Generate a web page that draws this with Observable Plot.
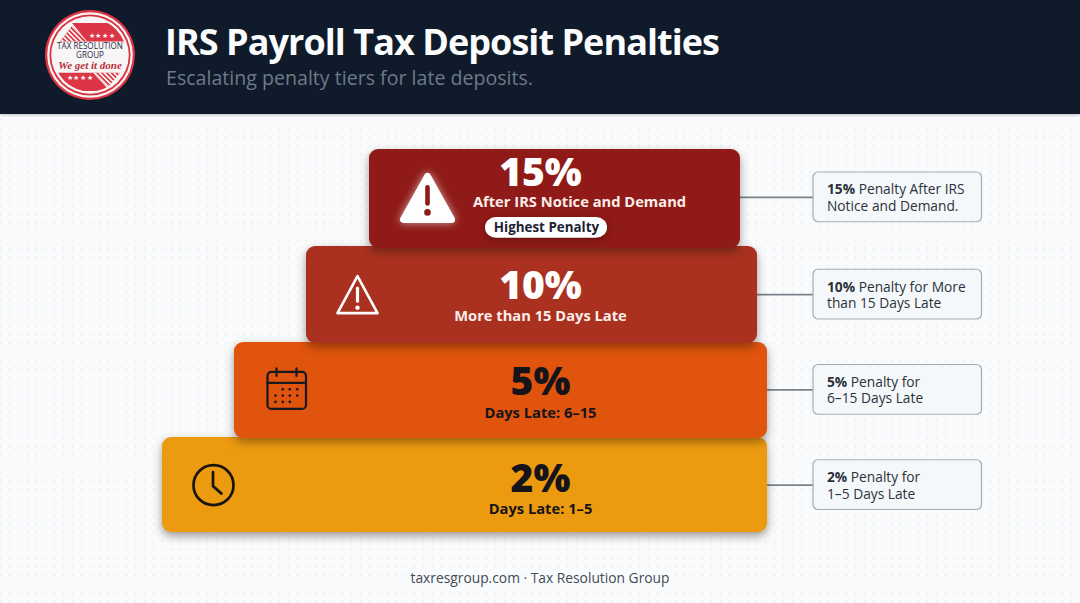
<!DOCTYPE html>
<html>
<head>
<meta charset="utf-8">
<script src="https://cdn.jsdelivr.net/npm/d3@7"></script>
<script src="https://cdn.jsdelivr.net/npm/@observablehq/plot@0.6"></script>
<style>
html,body{margin:0;padding:0;width:1080px;height:603px;overflow:hidden;font-family:"Open Sans",sans-serif;
  background-color:#fafbfc;background-image:radial-gradient(circle,#e4e7ea 0.7px,transparent 1.1px);background-size:9px 8.6px;background-position:-4px 4px}
#hdr{position:relative;height:114px;background:#0f1a2a;box-shadow:0 1px 3px rgba(0,0,0,.25)}
#logo{position:absolute;left:42px;top:7px}
#ttl{position:absolute;left:165px;top:17px;font-size:36px;font-weight:700;color:#fbfcfd;line-height:50px;white-space:nowrap;letter-spacing:-.95px}
#sub{position:absolute;left:166px;top:64px;font-size:19.6px;color:#6d7b88;line-height:28px;white-space:nowrap}
#chart svg{display:block;background:transparent;overflow:visible}
#ftr{position:absolute;left:0;top:566px;width:1080px;text-align:center;font-size:13.8px;line-height:24px;color:#3f4a55}
</style>
</head>
<body>
<div id="hdr">
  <svg id="logo" width="96" height="96" viewBox="0 0 96 96">
    <defs>
      <clipPath id="c"><circle cx="48" cy="48" r="36.5"/></clipPath>
      <pattern id="st" width="3.4" height="3.4" patternUnits="userSpaceOnUse" patternTransform="rotate(-45)"><rect width="1.7" height="3.4" fill="#f8f5f5"/></pattern>
    </defs>
    <circle cx="48" cy="48" r="45" fill="#dc3545"/>
    <circle cx="48" cy="48" r="42.8" fill="#f6f3f3"/>
    <circle cx="48" cy="48" r="40.6" fill="#d8323f"/>
    <circle cx="48" cy="48" r="38.8" fill="#f8f5f5"/>
    <g clip-path="url(#c)">
      <polygon points="45,34.5 30,16 96,16 96,34.5" fill="#dc3545"/>
      <polygon points="18,34.5 45,34.5 30,19" fill="#dc3545"/>
      <polygon points="18,34.5 45,34.5 30,19" fill="url(#st)"/>
      <polygon points="0,65.8 51,65.8 68,84 0,84" fill="#dc3545"/>
      <polygon points="51,65.8 78,65.8 66,80" fill="#dc3545"/>
      <polygon points="51,65.8 78,65.8 66,80" fill="url(#st)"/>
    </g>
    <text x="60" y="31" text-anchor="middle" font-size="6.5" fill="#fff" letter-spacing=".6">★★★★</text>
    <text x="38" y="72.5" text-anchor="middle" font-size="6.5" fill="#fff" letter-spacing=".6">★★★★</text>
    <text x="48" y="42" text-anchor="middle" font-family="Open Sans" font-size="8.1" font-weight="500" fill="#1f2a4d">TAX RESOLUTION</text>
    <text x="48" y="51" text-anchor="middle" font-family="Open Sans" font-size="8.1" font-weight="500" fill="#1f2a4d">GROUP</text>
    <text x="48" y="62" text-anchor="middle" font-family="Liberation Serif" font-style="italic" font-weight="700" font-size="11" fill="#b5303c">We get it done</text>
  </svg>
  <div id="ttl">IRS Payroll Tax Deposit Penalties</div>
  <div id="sub">Escalating penalty tiers for late deposits.</div>
</div>
<div id="chart"></div>
<div id="ftr">taxresgroup.com · Tax Resolution Group</div>
<script>
// ---- data ----
const tiers = ["15%", "10%", "5%", "2%"];
const conditions = ["After IRS Notice and Demand", "More than 15 Days Late", "Days Late: 6–15", "Days Late: 1–5"];
const noteTexts = [
  "15% Penalty After IRS\nNotice and Demand.",
  "10% Penalty for More\nthan 15 Days Late",
  "5% Penalty for\n6–15 Days Late",
  "2% Penalty for\n1–5 Days Late"
];
const badgeText = "Highest Penalty";

// ---- layout and style (diagram geometry, not data) ----
const barStart = [369, 306, 234, 162];
const barEnd = [740, 757, 767, 767];
const barTopInset = [0, 1.25, 1.5, 0.75];
const barBottomInset = [-3, -2.5, -1.75, 0];
const barColor = ["#8f1a17", "#aa3120", "#e0540d", "#ec9a10"];
const inkColor = ["#ffffff", "#ffffff", "#14141a", "#14141a"];
const subColor = ["#fbeeea", "#fbeeea", "#14141a", "#14141a"];
const iconX = [427, 357, 286, 213];
const iconDy = [0, 1, 1, 0.5];
const pctDy = [-23.5, -7, -6, -5];
const subDy = [4.5, 23.5, 24.5, 25];
const condX = [579, 540, 540, 540];
const noteDy = [0, 1.5, 1, 0.5];

const svgUri = s => "data:image/svg+xml;utf8," + encodeURIComponent(`<svg xmlns="http://www.w3.org/2000/svg" viewBox="0 0 64 64" width="256" height="256">${s}</svg>`);
const icons = [
  svgUri(`<polygon points="32,11 8,54 56,54" fill="#fff" stroke="#fff" stroke-width="7" stroke-linejoin="round"/><line x1="32" y1="22" x2="32" y2="38" stroke="#8f1a17" stroke-width="4.6" stroke-linecap="round"/><circle cx="32" cy="47" r="3.3" fill="#8f1a17"/>`),
  svgUri(`<polygon points="32,14 12,51 52,51" fill="none" stroke="#fff" stroke-width="2.6" stroke-linejoin="round"/><line x1="32" y1="26" x2="32" y2="39" stroke="#fff" stroke-width="3.2" stroke-linecap="round"/><circle cx="32" cy="45.5" r="2.2" fill="#fff"/>`),
  svgUri(`<g fill="none" stroke="#181820" stroke-width="2.2" stroke-linecap="round"><rect x="13" y="14" width="38.5" height="37" rx="4"/><line x1="13" y1="25" x2="51.5" y2="25"/><line x1="22" y1="10.5" x2="22" y2="18"/><line x1="42" y1="10.5" x2="42" y2="18"/></g><g fill="#181820"><circle cx="28.3" cy="31.3" r="1.3"/><circle cx="35.3" cy="31.3" r="1.3"/><circle cx="42.7" cy="31.3" r="1.3"/><circle cx="21" cy="37.7" r="1.3"/><circle cx="28.3" cy="37.7" r="1.3"/><circle cx="35.3" cy="37.7" r="1.3"/><circle cx="42.7" cy="37.7" r="1.3"/><circle cx="21" cy="44" r="1.3"/><circle cx="28.3" cy="44" r="1.3"/><circle cx="35.3" cy="44" r="1.3"/></g>`),
  svgUri(`<circle cx="32" cy="32" r="20" fill="none" stroke="#181410" stroke-width="2.7"/><polyline points="31.5,19 31.5,33 40,40.5" fill="none" stroke="#181410" stroke-width="2.7" stroke-linecap="round" stroke-linejoin="round"/>`)
];

const rows = tiers.map((t, i) => ({t, i}));
const drawOrder = rows.slice().reverse();

// bold leading percent inside the first tspan of each note
const boldLead = (index, scales, values, dims, ctx, next) => {
  const g = next(index, scales, values, dims, ctx);
  d3.select(g).selectAll("text").each(function () {
    const first = this.querySelector("tspan") || this;
    const s = first.textContent, k = s.indexOf(" ");
    first.textContent = "";
    const b = document.createElementNS("http://www.w3.org/2000/svg", "tspan");
    b.setAttribute("font-weight", "700");
    b.textContent = s.slice(0, k);
    first.appendChild(b);
    first.appendChild(document.createTextNode(s.slice(k)));
  });
  return g;
};

const chart = Plot.plot({
  width: 1080, height: 440,
  marginTop: 0, marginRight: 0, marginBottom: 0, marginLeft: 0,
  style: {background: "transparent", fontFamily: "'Open Sans',sans-serif"},
  x: {domain: [0, 1080], range: [0, 1080], axis: null},
  y: {domain: tiers, range: [35, 418], axis: null, padding: 0, round: false},
  marks: [
    // vertical spine
    Plot.ruleX(rows, {x: () => 98, y: d => d.t, stroke: "#a6abb0", strokeWidth: 2}),
    // connectors
    ...rows.map(d => Plot.ruleY([d], {
      y: e => e.t, x1: e => barEnd[e.i], x2: () => 813, dy: noteDy[d.i],
      stroke: "#79828a", strokeWidth: 1.6
    })),
    // tiers, lowest first so each upper tier casts its shadow onto the next
    ...drawOrder.map(d => Plot.barX([d], {
      x1: e => barStart[e.i], x2: e => barEnd[e.i], y: e => e.t,
      insetTop: barTopInset[d.i], insetBottom: barBottomInset[d.i],
      fill: e => barColor[e.i], rx: 9,
      imageFilter: "drop-shadow(0 4px 5px rgba(30,20,10,.42))"
    })),
    ...rows.map(d => Plot.image([d], {
      x: e => iconX[e.i], y: e => e.t, src: e => icons[e.i], width: 64, height: 64, dy: iconDy[d.i],
      imageFilter: d.i === 0 ? "drop-shadow(0 0 4px rgba(255,255,255,.6))" : "none"
    })),
    // percent headline and condition
    ...rows.map(d => Plot.text([d], {
      x: () => 540, y: e => e.t, text: e => e.t, dy: pctDy[d.i],
      fill: e => inkColor[e.i], fontSize: 39, fontWeight: 800
    })),
    ...rows.map(d => Plot.text([d], {
      x: e => condX[e.i], y: e => e.t, text: e => conditions[e.i], dy: subDy[d.i],
      fill: e => subColor[e.i], fontSize: 14.7, fontWeight: 700
    })),
    // badge
    Plot.barX(rows.filter(d => d.i === 0), {
      x1: () => 485, x2: () => 607, y: d => d.t,
      insetTop: 68, insetBottom: 7, rx: 11, fill: "#ffffff",
      imageFilter: "drop-shadow(0 2px 3px rgba(0,0,0,.3))"
    }),
    Plot.text(rows.filter(d => d.i === 0), {
      x: () => 546, y: d => d.t, text: () => badgeText, dy: 30,
      fill: "#1b2333", fontSize: 13.4, fontWeight: 700
    }),
    // side notes
    ...rows.map(d => Plot.barX([d], {
      x1: () => 813, x2: () => 981.5, y: e => e.t,
      insetTop: 23 + noteDy[d.i], insetBottom: 23 - noteDy[d.i], rx: 5,
      fill: "#f5f8fa", stroke: "#a3acb3", strokeWidth: 1.2
    })),
    ...rows.map(d => Plot.text([d], {
      x: () => 826.5, y: e => e.t, text: e => noteTexts[e.i], dy: noteDy[d.i],
      textAnchor: "start", lineHeight: 1.2, fill: "#2b323a", fontSize: 13.75,
      render: boldLead
    }))
  ]
});
document.getElementById("chart").appendChild(chart);
</script>
</body>
</html>
